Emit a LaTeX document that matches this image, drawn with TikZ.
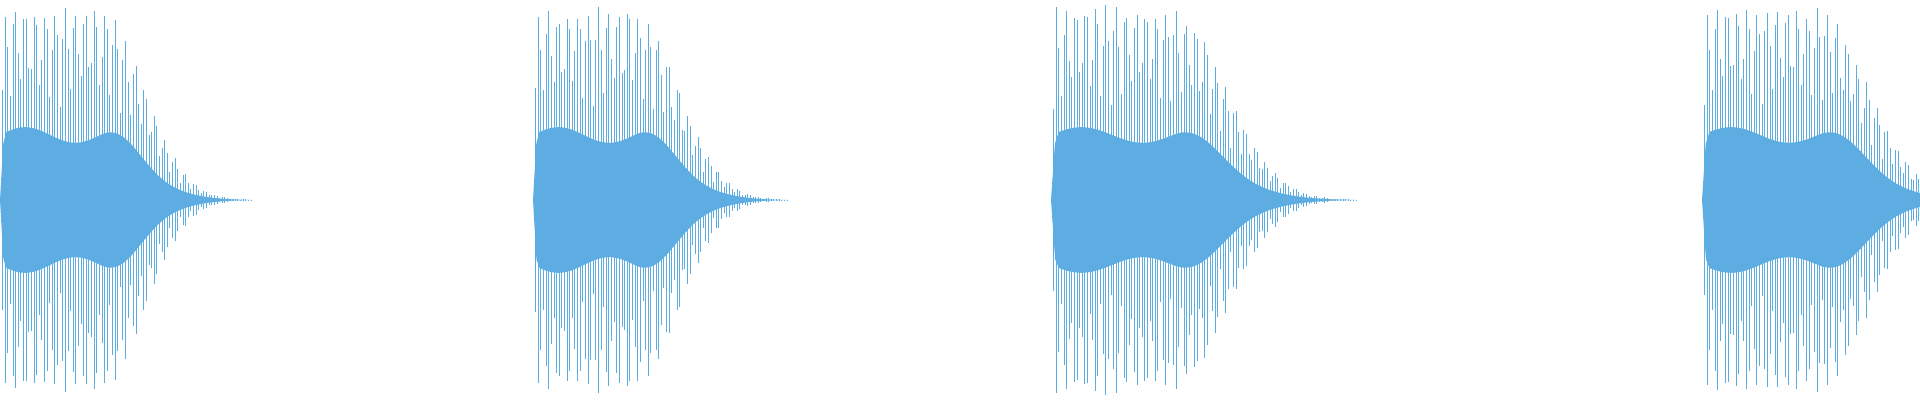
\documentclass[tikz,border=0pt]{standalone}
\begin{document}
\begin{tikzpicture}[x=0.5pt,y=0.5pt,
  declare function={envA(\t)=min(1,\t/0.015)*((\t<0.4)?1:exp(-((\t-0.4)/0.24)^2));},
  wave/.style={draw=wavecol,line width=0.45pt}]
\definecolor{wavecol}{HTML}{5DADE2}
\useasboundingbox (0,0) rectangle (1920,400);
\pgfmathsetseed{7}
\foreach \s/\L in {0/251, 533/254, 1051/305, 1702/290}{
  \fill[wavecol] plot[domain=0:1,samples=80] ({\s+\x*\L},{200+ 65*envA(\x)*(1+0.12*sin(\x*900))})
     -- plot[domain=1:0,samples=80] ({\s+\x*\L},{200- 65*envA(\x)*(1+0.12*sin(\x*900))}) -- cycle;
  \pgfmathtruncatemacro{\N}{\L/2.6}
  \foreach \i in {0,...,\N}{
    \pgfmathsetmacro{\t}{\i/\N}
    \pgfmathsetmacro{\h}{195*envA(\t)*(0.5+0.5*abs(sin(\i*47)))*(0.93+0.07*rnd)}
    \pgfmathsetmacro{\xx}{\s+\t*\L}
    \draw[wave] (\xx,{200-\h}) -- (\xx,{200+\h});
  }
}
\end{tikzpicture}
\end{document}
